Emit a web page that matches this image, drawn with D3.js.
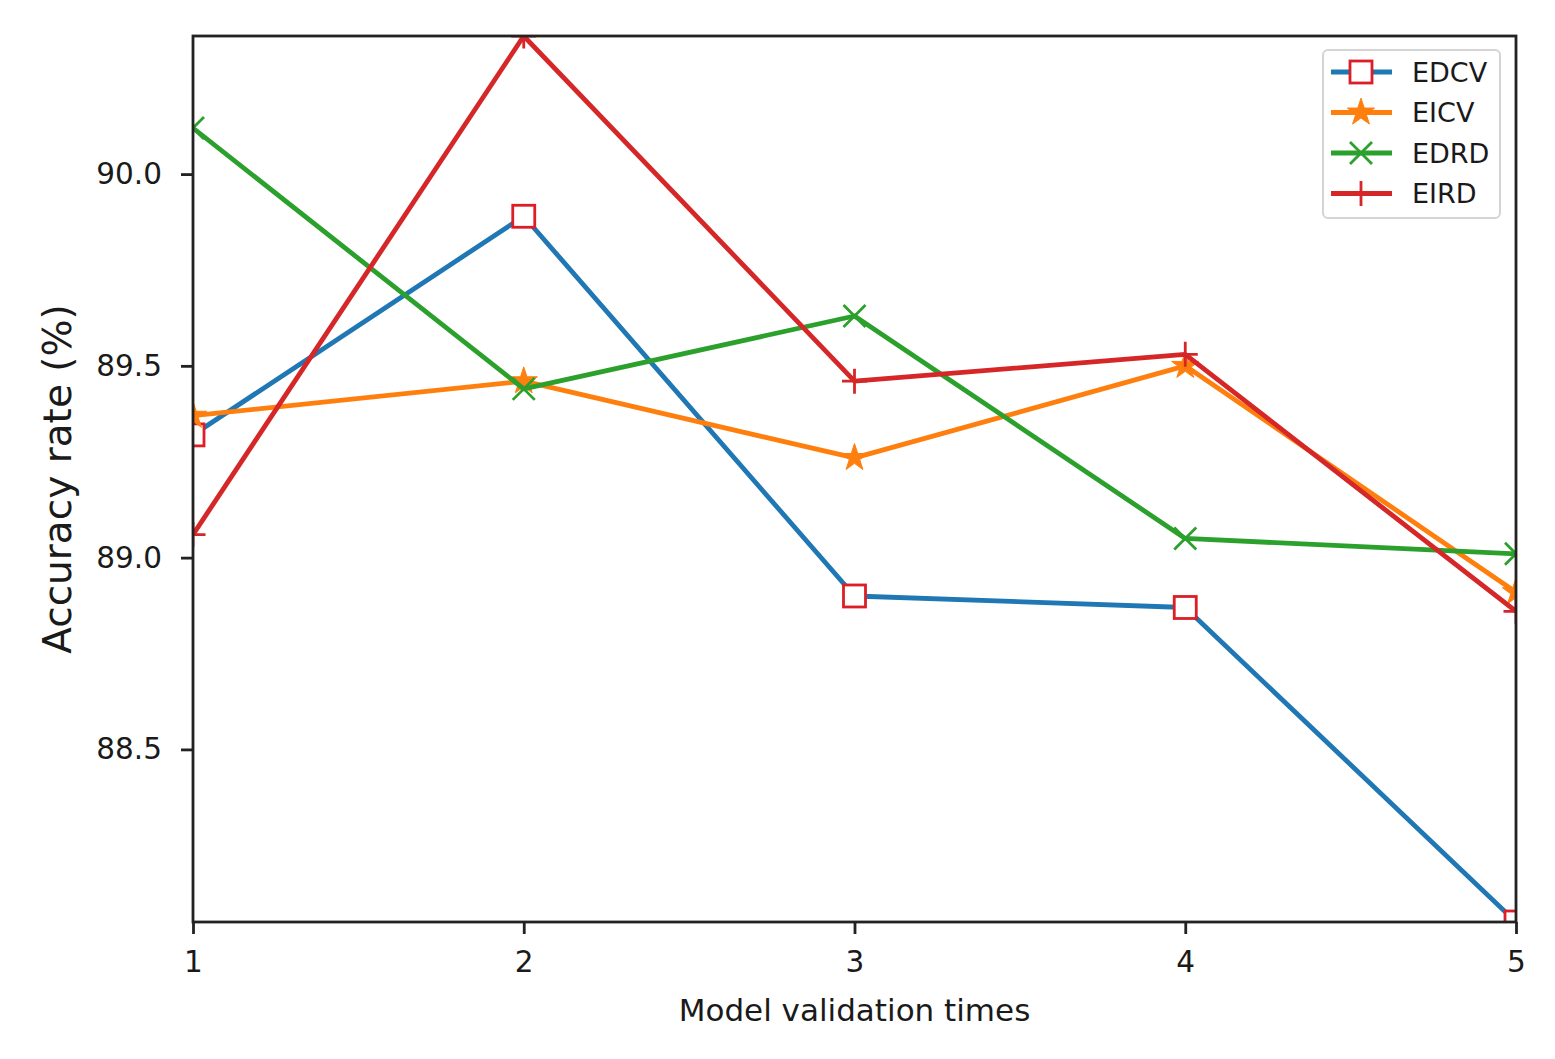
<!DOCTYPE html>
<html>
<head>
<meta charset="utf-8">
<script src="https://cdn.jsdelivr.net/npm/d3@7"></script>
<style>
  body { margin: 0; background: #fff; }
  text { font-family: "DejaVu Sans", sans-serif; fill: #1a1a1a; }
</style>
</head>
<body>
<div id="chart"></div>
<script>
// values
const runs = [1, 2, 3, 4, 5];
const yTicks = [88.5, 89.0, 89.5, 90.0];
const edcv = [89.32, 89.89, 88.90, 88.87, 88.05];
const eicv = [89.37, 89.46, 89.26, 89.50, 88.91];
const edrd = [90.12, 89.44, 89.63, 89.05, 89.01];
const eird = [89.06, 90.36, 89.46, 89.53, 88.86];

const series = [
    { name: "EDCV", values: edcv, color: "#1f77b4", marker: "square", mcolor: "#dc1e26" },
    { name: "EICV", values: eicv, color: "#ff7f0e", marker: "star", mcolor: "#ff7f0e" },
    { name: "EDRD", values: edrd, color: "#2ca02c", marker: "x", mcolor: "#2ca02c" },
    { name: "EIRD", values: eird, color: "#d62728", marker: "plus", mcolor: "#d62728" }
];

const W = 1555, H = 1059;
const margin = { top: 36, right: 39, bottom: 137, left: 193 },
      width = W - margin.left - margin.right,
      height = H - margin.top - margin.bottom;

const svg = d3.select("#chart")
    .append("svg")
    .attr("width", W)
    .attr("height", H);

const g = svg.append("g")
    .attr("transform", `translate(${margin.left},${margin.top})`);

const x = d3.scaleLinear().domain(d3.extent(runs)).range([0, width]);
const allVals = series.flatMap(s => s.values);
const y = d3.scaleLinear().domain(d3.extent(allVals)).range([height, 0]);

g.append("clipPath").attr("id", "plotclip")
    .append("rect").attr("width", width).attr("height", height);

// axes
const xAxis = g.append("g")
    .attr("transform", `translate(0,${height})`)
    .call(d3.axisBottom(x).tickValues(runs).tickFormat(d3.format("d")).tickSize(12).tickPadding(17));
const yAxis = g.append("g")
    .call(d3.axisLeft(y).tickValues(yTicks).tickFormat(d3.format(".1f")).tickSize(12).tickPadding(19));
[xAxis, yAxis].forEach(a => {
    a.select(".domain").remove();
    a.selectAll(".tick line").attr("stroke", "#222").attr("stroke-width", 2.8);
    a.selectAll(".tick text").style("font-size", "29.5px").attr("fill", "#1a1a1a");
});

// markers
function drawMarker(sel, type, color) {
    if (type === "square") {
        sel.append("rect")
            .attr("x", -11).attr("y", -11)
            .attr("width", 22).attr("height", 22)
            .attr("fill", "#fff").attr("stroke", color).attr("stroke-width", 2.8);
    } else if (type === "star") {
        sel.append("path")
            .attr("d", d3.symbol(d3.symbolStar, 230)())
            .attr("fill", color).attr("stroke", color).attr("stroke-width", 1);
    } else if (type === "x") {
        const r = 11;
        sel.append("path")
            .attr("d", `M${-r},${-r}L${r},${r}M${-r},${r}L${r},${-r}`)
            .attr("stroke", color).attr("stroke-width", 2.8).attr("fill", "none");
    } else if (type === "plus") {
        const r = 12.5;
        sel.append("path")
            .attr("d", `M${-r},0L${r},0M0,${-r}L0,${r}`)
            .attr("stroke", color).attr("stroke-width", 2.8).attr("fill", "none");
    }
}

const plot = g.append("g").attr("clip-path", "url(#plotclip)");
const line = d3.line().x((d, i) => x(runs[i])).y(d => y(d));

series.forEach(s => {
    const sg = plot.append("g");
    sg.append("path")
        .datum(s.values)
        .attr("d", line)
        .attr("fill", "none")
        .attr("stroke", s.color)
        .attr("stroke-width", 4.8)
        .attr("stroke-linejoin", "round");
    sg.selectAll(".mk")
        .data(s.values)
        .join("g")
        .attr("transform", (d, i) => `translate(${x(runs[i])},${y(d)})`)
        .each(function () { drawMarker(d3.select(this), s.marker, s.mcolor); });
});

// frame
g.append("rect")
    .attr("width", width).attr("height", height)
    .attr("fill", "none").attr("stroke", "#222").attr("stroke-width", 2.8);

// axis labels
svg.append("text")
    .attr("x", margin.left + width / 2)
    .attr("y", 1021)
    .attr("text-anchor", "middle")
    .style("font-size", "31px")
    .text("Model validation times");

svg.append("text")
    .attr("transform", `translate(71,${margin.top + height / 2}) rotate(-90)`)
    .attr("text-anchor", "middle")
    .style("font-size", "39px")
    .text("Accuracy rate (%)");

// legend
const leg = g.append("g").attr("transform", `translate(${width - 193},${14})`);
leg.append("rect")
    .attr("width", 177).attr("height", 168).attr("rx", 5)
    .attr("fill", "#fff").attr("fill-opacity", 0.8)
    .attr("stroke", "#d4d4d4").attr("stroke-width", 2);
series.forEach((s, i) => {
    const row = leg.append("g").attr("transform", `translate(0,${22 + i * 40.5})`);
    row.append("line")
        .attr("x1", 8).attr("x2", 69)
        .attr("stroke", s.color).attr("stroke-width", 4.8);
    const m = row.append("g").attr("transform", "translate(38,0)");
    drawMarker(m, s.marker, s.mcolor);
    row.append("text")
        .attr("x", 89).attr("dy", "0.36em")
        .style("font-size", "27px")
        .text(s.name);
});
</script>
</body>
</html>
